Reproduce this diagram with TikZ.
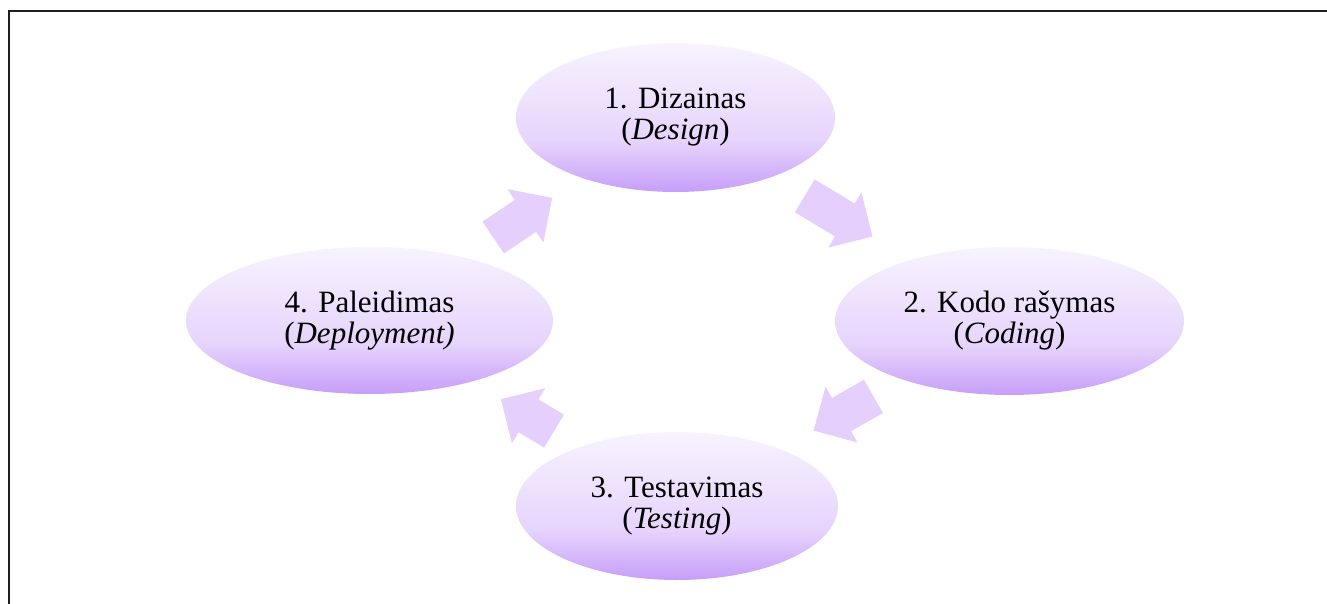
\documentclass[tikz,border=0pt]{standalone}
\usepackage{fontspec}
\setmainfont{Liberation Serif}
\usetikzlibrary{shapes.geometric,shapes.arrows}

\definecolor{elltop}{RGB}{248,243,254}
\definecolor{ellmid}{RGB}{230,212,252}
\definecolor{ellbot}{RGB}{199,158,249}
\definecolor{arrowfill}{RGB}{228,207,253}
\definecolor{framecol}{RGB}{30,30,30}

% light-to-violet fill for the phase ellipses (25bp = bottom, 75bp = top)
\pgfdeclareverticalshading{ellshade}{100bp}{color(0bp)=(ellbot); color(25bp)=(ellbot); color(42bp)=(ellmid); color(75bp)=(elltop); color(100bp)=(elltop)}

\tikzset{
  phase/.style={ellipse, shading=ellshade, draw=none, align=center,
    inner sep=0pt, font=\fontsize{31}{31}\selectfont},
  blockarrow/.style={single arrow, fill=arrowfill, draw=none,
    inner xsep=0pt, inner ysep=19pt, minimum width=64pt,
    single arrow head extend=13pt,
    single arrow tip angle=90, single arrow head indent=0pt, anchor=tip},
  frameline/.style={draw=framecol, line width=2pt}
}

\begin{document}
\begin{tikzpicture}[x=1pt, y=-1pt]
  \useasboundingbox (0,0) rectangle (1327,604);

  % open frame: top and left edges only
  \coordinate (fbl) at (9,604);
  \coordinate (ftl) at (9,11);
  \coordinate (ftr) at (1327,11);
  \draw[frameline] (fbl) -- (ftl) -- (ftr);

  % the four phases of the cycle
  \node[phase, minimum width=319pt, minimum height=149pt] (design) at (675.5,117.5)
    {1. Dizainas\\(\textit{Design})};
  \node[phase, minimum width=349pt, minimum height=148pt] (coding) at (1009.5,321)
    {2. Kodo rašymas\\(\textit{Coding})};
  \node[phase, minimum width=322pt, minimum height=148pt] (testing) at (677,506)
    {3. Testavimas\\(\textit{Testing})};
  \node[phase, minimum width=367pt, minimum height=147pt] (deploy) at (369.5,320.5)
    {4. Paleidimas\\(\textit{Deployment)}};

  % block arrows leading from one phase to the next, placed by their tips
  \node[blockarrow, minimum height=71pt, rotate=34] (a41) at (552.3,197.7) {};
  \node[blockarrow, minimum height=79pt, rotate=-31] (a12) at (872.7,236.7) {};
  \node[blockarrow, minimum height=69pt, rotate=209.7] (a23) at (813.3,430.7) {};
  \node[blockarrow, minimum height=62pt, rotate=148.9] (a34) at (500.7,399) {};
\end{tikzpicture}
\end{document}
